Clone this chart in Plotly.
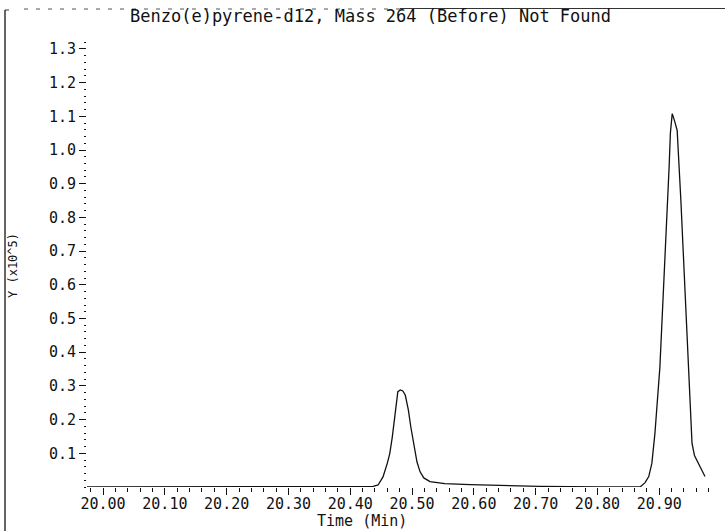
import plotly.graph_objects as go

# Retention time (min) and ion abundance (x10^5) for mass 264
time_min = [
    19.974, 20.000, 20.100, 20.200, 20.300, 20.400, 20.430, 20.437,
    20.445, 20.453, 20.460, 20.464, 20.468, 20.471, 20.474, 20.477,
    20.481, 20.485, 20.489, 20.494, 20.498, 20.503, 20.508, 20.513,
    20.519, 20.529, 20.553, 20.594, 20.642, 20.707, 20.804, 20.869,
    20.877, 20.883, 20.888, 20.893, 20.901, 20.906, 20.912, 20.916,
    20.918, 20.920, 20.921, 20.925, 20.929, 20.935, 20.941, 20.947,
    20.953, 20.957, 20.963, 20.968, 20.974,
]
abundance = [
    0.0, 0.0, 0.0, 0.0, 0.0, 0.0, 0.0, 0.002,
    0.006, 0.030, 0.071, 0.100, 0.148, 0.200, 0.250, 0.283,
    0.288, 0.285, 0.273, 0.229, 0.178, 0.125, 0.074, 0.045,
    0.027, 0.016, 0.010, 0.007, 0.004, 0.002, 0.0, 0.0,
    0.013, 0.031, 0.070, 0.159, 0.355, 0.553, 0.752, 0.951,
    1.050, 1.105, 1.108, 1.085, 1.058, 0.850, 0.620, 0.380,
    0.130, 0.093, 0.070, 0.052, 0.031,
]

x_tickvals = [20.0, 20.1, 20.2, 20.3, 20.4, 20.5, 20.6, 20.7, 20.8, 20.9]
x_ticktext = ["20.00", "20.10", "20.20", "20.30", "20.40",
              "20.50", "20.60", "20.70", "20.80", "20.90"]
y_tickvals = [0.1, 0.2, 0.3, 0.4, 0.5, 0.6, 0.7, 0.8, 0.9, 1.0, 1.1, 1.2, 1.3]
y_ticktext = ["0.1", "0.2", "0.3", "0.4", "0.5", "0.6", "0.7",
              "0.8", "0.9", "1.0", "1.1", "1.2", "1.3"]

title_text = "Benzo(e)pyrene-d12, Mass 264 (Before) Not Found"
x_title = "Time (Min)"
y_title = "Y (x10^5)"

FONT = "DejaVu Sans Mono"
INK = "#111111"

W, H = 725, 531
L, R, T, B = 87, 16, 39, 44

fig = go.Figure()
fig.add_trace(go.Scatter(
    x=time_min, y=abundance, mode="lines",
    line=dict(color=INK, width=1.3),
    hoverinfo="skip", showlegend=False,
))

fig.update_layout(
    width=W, height=H,
    margin=dict(l=L, r=R, t=T, b=B, pad=0),
    paper_bgcolor="white", plot_bgcolor="white",
    font=dict(family=FONT, size=15, color=INK),
    showlegend=False,
    xaxis=dict(
        range=[19.974, 20.9805], showgrid=False, zeroline=False, showline=False,
        tickvals=x_tickvals, ticktext=x_ticktext,
        ticks="outside", ticklen=7, tickwidth=1, tickcolor=INK,
        ticklabelstandoff=-4,
        tickfont=dict(family=FONT, size=15, color=INK),
        minor=dict(dtick=0.02, tick0=20.0, ticks="outside", ticklen=4,
                   tickwidth=1, tickcolor=INK, showgrid=False),
    ),
    yaxis=dict(
        range=[0, 1.3294], showgrid=False, zeroline=False, showline=False,
        tickvals=y_tickvals, ticktext=y_ticktext,
        ticks="outside", ticklen=7, tickwidth=1, tickcolor=INK,
        tickfont=dict(family=FONT, size=15, color=INK),
        minor=dict(dtick=0.02, tick0=0.0, ticks="outside", ticklen=2,
                   tickwidth=1, tickcolor=INK, showgrid=False),
    ),
)

# Titles
fig.add_annotation(
    text=title_text, xref="paper", yref="paper",
    x=(370 - L) / (W - L - R), y=1 + (T - 16) / (H - T - B),
    xanchor="center", yanchor="middle", showarrow=False,
    font=dict(family=FONT, size=17, color=INK),
)
fig.add_annotation(
    text=x_title, xref="paper", yref="paper",
    x=(362 - L) / (W - L - R), y=-(521 - (H - B)) / (H - T - B),
    xanchor="center", yanchor="middle", showarrow=False,
    font=dict(family=FONT, size=15, color=INK),
)
fig.add_annotation(
    text=y_title, xref="paper", yref="paper",
    x=(13 - L) / (W - L - R), y=1 - (266 - T) / (H - T - B),
    xanchor="center", yanchor="middle", showarrow=False, textangle=-90,
    font=dict(family=FONT, size=12, color=INK),
)

# Page frame: left rule and top rule
def px_x(px):
    return (px - L) / (W - L - R)

def px_y(py):
    return 1 - (py - T) / (H - T - B)

fig.add_shape(type="line", xref="paper", yref="paper",
              x0=px_x(5), x1=px_x(5), y0=px_y(10), y1=px_y(531),
              line=dict(color="#333333", width=1.5))
fig.add_shape(type="line", xref="paper", yref="paper",
              x0=px_x(5), x1=px_x(9), y0=px_y(10), y1=px_y(10),
              line=dict(color="#333333", width=1))
fig.add_shape(type="line", xref="paper", yref="paper",
              x0=px_x(24), x1=px_x(400), y0=px_y(9), y1=px_y(9),
              line=dict(color="#555555", width=1, dash="4px,8px"))
fig.add_shape(type="line", xref="paper", yref="paper",
              x0=px_x(400), x1=px_x(725), y0=px_y(8.5), y1=px_y(8.5),
              line=dict(color="#333333", width=1))

fig.write_html("out.html")
